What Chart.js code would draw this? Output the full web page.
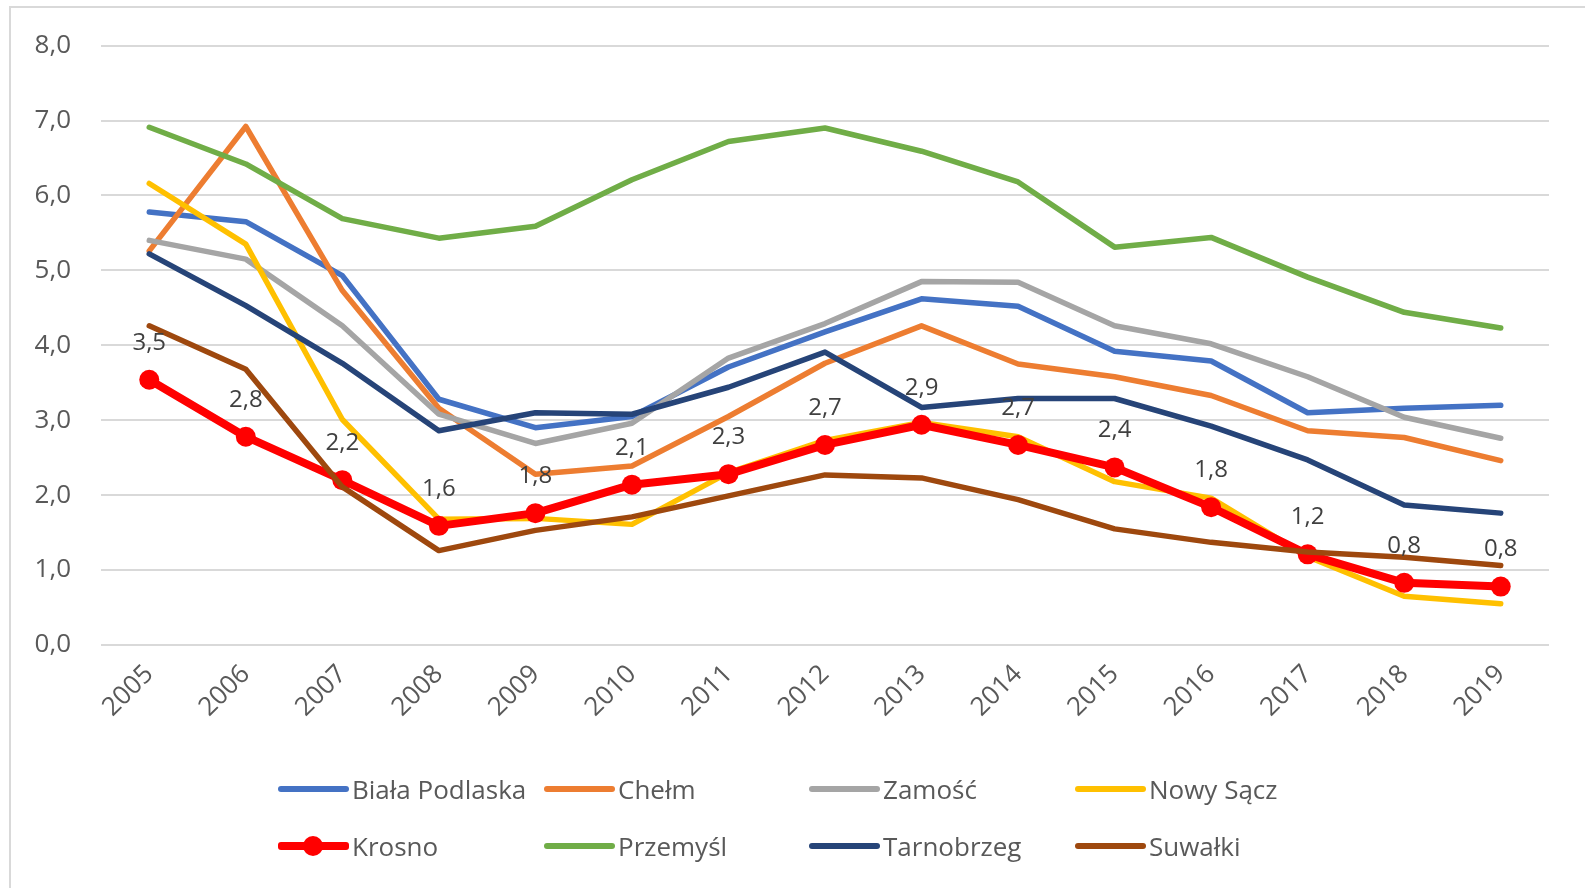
<!DOCTYPE html>
<html>
<head>
<meta charset="utf-8">
<script src="https://cdn.jsdelivr.net/npm/chart.js@4/dist/chart.umd.min.js"></script>
<style>
  html, body { margin: 0; padding: 0; background: #fff; }
  #wrap { position: relative; width: 1585px; height: 888px; font-family: 'Open Sans', sans-serif; }
  #frame { position: absolute; left: 9px; top: 6px; right: 0; bottom: 0; border-left: 2px solid #d9d9d9; border-top: 2px solid #d9d9d9; pointer-events: none; }
  #legend { position: absolute; left: 0; top: 0; width: 100%; height: 100%; pointer-events: none; }
  .item { position: absolute; display: flex; align-items: center; height: 30px; margin-top: -15px; color: #595959; font-size: 26px; }
  .swatch { position: relative; width: 71px; height: 6px; border-radius: 3px; margin-right: 3px; }
  .dot { position: absolute; left: 25px; top: -7px; width: 20px; height: 20px; border-radius: 10px; }
</style>
</head>
<body>
<div id="wrap">
  <canvas id="chart" width="1585" height="888"></canvas>
  <div id="frame"></div>
  <div id="legend"></div>
</div>
<script>
const years = ['2005', '2006', '2007', '2008', '2009', '2010', '2011', '2012', '2013', '2014', '2015', '2016', '2017', '2018', '2019'];

const bialaPodlaska = [5.78, 5.65, 4.93, 3.28, 2.90, 3.05, 3.71, 4.18, 4.62, 4.52, 3.92, 3.79, 3.10, 3.16, 3.20];
const chelm = [5.26, 6.92, 4.73, 3.16, 2.28, 2.39, 3.05, 3.76, 4.26, 3.75, 3.58, 3.33, 2.86, 2.77, 2.46];
const zamosc = [5.40, 5.15, 4.26, 3.08, 2.69, 2.96, 3.83, 4.29, 4.85, 4.84, 4.26, 4.02, 3.58, 3.04, 2.76];
const nowySacz = [6.16, 5.35, 3.01, 1.68, 1.69, 1.61, 2.30, 2.73, 2.97, 2.78, 2.18, 1.96, 1.18, 0.65, 0.55];
const krosno = [3.54, 2.78, 2.20, 1.59, 1.76, 2.14, 2.28, 2.67, 2.94, 2.67, 2.37, 1.84, 1.21, 0.83, 0.78];
const przemysl = [6.91, 6.42, 5.69, 5.43, 5.59, 6.21, 6.72, 6.90, 6.59, 6.18, 5.31, 5.44, 4.91, 4.44, 4.23];
const tarnobrzeg = [5.22, 4.53, 3.76, 2.86, 3.10, 3.08, 3.44, 3.91, 3.17, 3.29, 3.29, 2.92, 2.47, 1.87, 1.76];
const suwalki = [4.26, 3.68, 2.11, 1.26, 1.53, 1.71, 1.99, 2.27, 2.23, 1.94, 1.55, 1.37, 1.24, 1.17, 1.06];

const seriesNames = ['Biała Podlaska', 'Chełm', 'Zamość', 'Nowy Sącz', 'Krosno', 'Przemyśl', 'Tarnobrzeg', 'Suwałki'];
const seriesData = [bialaPodlaska, chelm, zamosc, nowySacz, krosno, przemysl, tarnobrzeg, suwalki];
const seriesColors = ['#4472C4', '#ED7D31', '#A5A5A5', '#FFC000', '#FF0000', '#70AD47', '#264478', '#9E480E'];

const fmt = (v) => v.toFixed(1).replace('.', ',');

const datasets = seriesNames.map((name, i) => {
  const isKrosno = name === 'Krosno';
  return {
    label: name,
    data: seriesData[i],
    borderColor: seriesColors[i],
    backgroundColor: seriesColors[i],
    borderWidth: isKrosno ? 8 : 5.5,
    pointRadius: isKrosno ? 10 : 0,
    pointHoverRadius: isKrosno ? 10 : 0,
    pointBorderWidth: 0,
    borderJoinStyle: 'round',
    borderCapStyle: 'round',
    tension: 0,
    order: seriesNames.length - i, // later series on top, like Excel
  };
});

// labels above the Krosno points
const krosnoLabels = {
  id: 'krosnoLabels',
  afterDatasetsDraw(chart) {
    const idx = seriesNames.indexOf('Krosno');
    const meta = chart.getDatasetMeta(idx);
    const ctx = chart.ctx;
    ctx.save();
    ctx.font = '24px "Open Sans", sans-serif';
    ctx.fillStyle = '#404040';
    ctx.textAlign = 'center';
    ctx.textBaseline = 'middle';
    meta.data.forEach((pt, j) => {
      ctx.fillText(fmt(krosno[j]), pt.x, pt.y - 37);
    });
    ctx.restore();
  },
};

new Chart(document.getElementById('chart'), {
  type: 'line',
  data: { labels: years, datasets },
  options: {
    responsive: false,
    animation: false,
    layout: { padding: { left: 0, right: 36, top: 43, bottom: 0 } },
    plugins: {
      legend: { display: false },
      tooltip: { enabled: false },
    },
    scales: {
      x: {
        offset: true,
        grid: { display: false },
        border: { display: false },
        ticks: {
          color: '#595959',
          font: { family: 'Open Sans', size: 26 },
          minRotation: 45,
          maxRotation: 45,
          padding: 6,
        },
        afterFit: (scale) => { scale.height = 888 - 645; },
      },
      y: {
        min: 0,
        max: 8,
        grid: { color: '#d9d9d9', lineWidth: 2, drawTicks: false },
        border: { display: false },
        ticks: {
          stepSize: 1,
          color: '#595959',
          font: { family: 'Open Sans', size: 26 },
          padding: 30,
          callback: (v) => fmt(v),
        },
        afterFit: (scale) => { scale.width = 101; },
      },
    },
  },
  plugins: [krosnoLabels],
});

// legend laid out on a grid like the original
const legendCols = [278, 544, 809, 1075];
const legendRows = [789, 846];
const legendEl = document.getElementById('legend');
seriesNames.forEach((name, i) => {
  const item = document.createElement('div');
  item.className = 'item';
  item.style.left = legendCols[i % 4] + 'px';
  item.style.top = legendRows[Math.floor(i / 4)] + 'px';
  const sw = document.createElement('div');
  sw.className = 'swatch';
  sw.style.background = seriesColors[i];
  if (name === 'Krosno') {
    sw.style.height = '8px';
    const dot = document.createElement('div');
    dot.className = 'dot';
    dot.style.background = seriesColors[i];
    dot.style.top = '-6px';
    sw.appendChild(dot);
  }
  const txt = document.createElement('span');
  txt.textContent = name;
  item.appendChild(sw);
  item.appendChild(txt);
  legendEl.appendChild(item);
});
</script>
</body>
</html>
